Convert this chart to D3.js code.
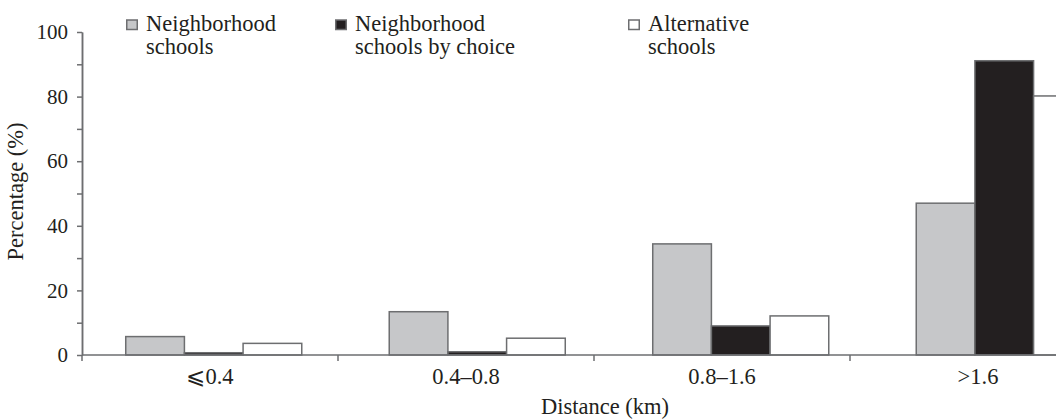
<!DOCTYPE html>
<html>
<head>
<meta charset="utf-8">
<script src="https://cdn.jsdelivr.net/npm/d3@7"></script>
<style>
  body { margin: 0; background: #fff; }
  svg { display: block; font-family: "Liberation Serif", "DejaVu Serif", serif; }
  text { fill: #231f20; font-family: "Liberation Serif", serif; }
</style>
</head>
<body>
<svg width="1056" height="420"></svg>
<script>
var categories = ["\u2A7D0.4", "0.4\u20130.8", "0.8\u20131.6", ">1.6"];
var seriesNames = ["Neighborhood schools", "Neighborhood schools by choice", "Alternative schools"];
var legendLines = [["Neighborhood", "schools"], ["Neighborhood", "schools by choice"], ["Alternative", "schools"]];
var neighborhood = [5.7, 13.4, 34.4, 47.0];
var byChoice = [0.7, 1.0, 9.0, 91.1];
var alternative = [3.6, 5.2, 12.1, 80.2];
var yTicks = [0, 20, 40, 60, 80, 100];

var values = [neighborhood, byChoice, alternative];
var fills = ["#c6c7c9", "#231f20", "#ffffff"];
var stroke = "#6d6e70";
var fontSize = 22.5;

var svg = d3.select("svg"),
    margin = {top: 32, left: 82, bottom: 65},
    height = +svg.attr("height");

var y = d3.scaleLinear().domain([0, 100]).range([height - margin.bottom, margin.top]);

// axis bands (labels and separators) and bar groups are spaced a little differently in the figure
var xAxis = d3.scaleBand().domain(categories).range([margin.left, margin.left + 4 * 256]);
var x0 = d3.scaleBand().domain(categories).range([margin.left, margin.left + 4 * 263.5])
    .paddingInner(0.332).paddingOuter(0.166);
var x1 = d3.scaleBand().domain(d3.range(seriesNames.length)).range([0, x0.bandwidth()]);

// bars
var groups = svg.append("g")
  .selectAll("g")
  .data(categories)
  .enter().append("g")
    .attr("transform", function(d) { return "translate(" + x0(d) + ",0)"; });

groups.selectAll("rect")
  .data(function(d, i) { return values.map(function(v, s) { return {s: s, v: v[i]}; }); })
  .enter().append("rect")
    .attr("x", function(d) { return x1(d.s); })
    .attr("width", x1.bandwidth())
    .attr("y", function(d) { return y(d.v); })
    .attr("height", function(d) { return y(0) - y(d.v); })
    .attr("fill", function(d) { return fills[d.s]; })
    .attr("stroke", stroke)
    .attr("stroke-width", 1.5);

// y axis
var yAxis = svg.append("g")
    .attr("transform", "translate(" + margin.left + ",0)")
    .call(d3.axisLeft(y).tickValues(yTicks).tickSize(5).tickPadding(9).tickSizeOuter(0));
yAxis.append("g")
    .call(d3.axisLeft(y).tickValues(d3.range(10, 100, 20)).tickSize(5).tickFormat("").tickSizeOuter(0));
yAxis.selectAll("path, line").attr("stroke", stroke).attr("stroke-width", 1.5);
yAxis.selectAll("text")
    .attr("font-family", "Liberation Serif")
    .attr("font-size", 21)
    .attr("fill", "#231f20");

svg.append("text")
    .attr("transform", "translate(23," + (y(50) - 2) + ") rotate(-90)")
    .attr("text-anchor", "middle")
    .attr("font-size", fontSize)
    .text("Percentage (%)");

// x axis
var xg = svg.append("g")
    .attr("transform", "translate(0," + y(0) + ")");
xg.append("line")
    .attr("x1", margin.left)
    .attr("x2", xAxis.range()[1])
    .attr("stroke", stroke)
    .attr("stroke-width", 1.5);
xg.selectAll(".sep")
  .data(categories)
  .enter().append("line")
    .attr("class", "sep")
    .attr("x1", function(d) { return xAxis(d); })
    .attr("x2", function(d) { return xAxis(d); })
    .attr("y1", 0)
    .attr("y2", 6)
    .attr("stroke", stroke)
    .attr("stroke-width", 1.5);
xg.selectAll(".lab")
  .data(categories)
  .enter().append("text")
    .attr("class", "lab")
    .attr("x", function(d) { return xAxis(d) + xAxis.bandwidth() / 2; })
    .attr("y", 29)
    .attr("text-anchor", "middle")
    .attr("font-size", fontSize)
    .text(function(d) { return d; });

svg.append("text")
    .attr("x", 605)
    .attr("y", 414)
    .attr("text-anchor", "middle")
    .attr("font-size", fontSize)
    .text("Distance (km)");

// legend
var legendX = [126, 335, 628];
var legend = svg.append("g")
  .selectAll("g")
  .data(seriesNames)
  .enter().append("g")
    .attr("transform", function(d, i) { return "translate(" + legendX[i] + ",0)"; });

legend.append("rect")
    .attr("x", 0.75)
    .attr("y", 20)
    .attr("width", 10.5)
    .attr("height", 9.5)
    .attr("fill", function(d, i) { return fills[i]; })
    .attr("stroke", stroke)
    .attr("stroke-width", 1.5);

legend.selectAll("text")
  .data(function(d, i) { return legendLines[i]; })
  .enter().append("text")
    .attr("x", 20)
    .attr("y", function(d, j) { return 31 + j * 23; })
    .attr("font-size", fontSize)
    .text(function(d) { return d; });
</script>
</body>
</html>
